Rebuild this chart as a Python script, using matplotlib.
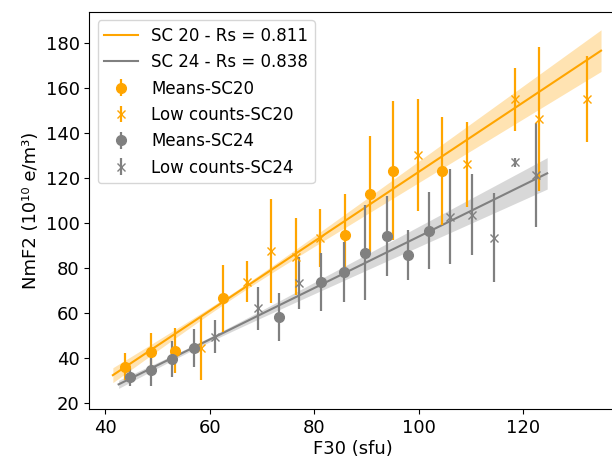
import numpy as np
import matplotlib
matplotlib.use('Agg')
import matplotlib.pyplot as plt

# SC20 monthly means
f30_m20 = [43.9, 48.7, 53.3, 62.6, 85.9, 90.7, 95.1, 104.4]
nmf2_m20 = [36.0, 42.7, 43.2, 66.5, 94.7, 112.9, 123.3, 123.3]
err_m20 = [6, 8.5, 10, 15, 18, 26, 31, 24]

# SC20 low-count points
f30_l20 = [58.3, 67.2, 71.8, 76.5, 81.1, 99.9, 109.2, 118.4, 123.0, 132.3]
nmf2_l20 = [44.2, 73.9, 87.5, 85.0, 93.2, 130.3, 126.1, 155.1, 146.2, 155.1]
err_l20 = [14, 9, 23, 17, 13, 25, 19, 14, 32, 19]

# SC24 monthly means
f30_m24 = [44.8, 48.7, 52.9, 57.0, 73.3, 81.4, 85.7, 89.8, 94.0, 97.9, 102.0]
nmf2_m24 = [31.3, 34.6, 39.5, 44.5, 58.3, 73.6, 78.3, 86.8, 94.2, 85.8, 96.6]
err_m24 = [4, 7, 8, 8.5, 10.7, 13, 13.3, 21, 18, 11, 17]

# SC24 low-count points
f30_l24 = [61.0, 69.3, 77.2, 106.0, 110.2, 114.4, 118.4, 122.4]
nmf2_l24 = [49.4, 62.0, 73.4, 102.8, 103.6, 93.5, 126.9, 121.4]
err_l24 = [7.4, 9.6, 11.5, 21, 18, 20, 2, 23]

# linear fits: slope, intercept, x range
fit20 = (1.546, -31.9)
fit24 = (1.145, -20.6)
range20 = (41.5, 134.9)
range24 = (42.6, 124.6)
# confidence band: min half-width, growth rate, centre
band20 = (1.2, 0.1315, 65.0)
band24 = (1.0, 0.1028, 57.2)

rs20 = 0.811
rs24 = 0.838

fig = plt.figure(figsize=(6.12, 4.65), dpi=100)
ax = fig.add_axes([0.146, 0.1204, 0.86, 0.854])


def fit_band(fit, xr, band, color, label):
    xx = np.linspace(xr[0], xr[1], 100)
    yy = fit[0] * xx + fit[1]
    h = np.sqrt(band[0]**2 + (band[1] * (xx - band[2]))**2)
    ax.fill_between(xx, yy - h, yy + h, color=color, alpha=0.3, lw=0)
    ax.plot(xx, yy, color=color, lw=1.5, label=label)


fit_band(fit20, range20, band20, 'orange', f'SC 20 - Rs = {rs20}')
fit_band(fit24, range24, band24, 'grey', f'SC 24 - Rs = {rs24}')

ax.errorbar(f30_m20, nmf2_m20, yerr=err_m20, fmt='o', color='orange',
            ms=7, elinewidth=1.6, label='Means-SC20')
ax.errorbar(f30_l20, nmf2_l20, yerr=err_l20, fmt='x', color='orange',
            ms=6, elinewidth=1.6, label='Low counts-SC20')
ax.errorbar(f30_m24, nmf2_m24, yerr=err_m24, fmt='o', color='grey',
            ms=7, elinewidth=1.6, label='Means-SC24')
ax.errorbar(f30_l24, nmf2_l24, yerr=err_l24, fmt='x', color='grey',
            ms=6, elinewidth=1.6, label='Low counts-SC24')

ax.set_xlim(37.0, 137.7)
ax.set_ylim(17.2, 193.9)
ax.set_xticks([40, 60, 80, 100, 120])
ax.set_yticks(np.arange(20, 181, 20))
ax.tick_params(labelsize=13)
ax.set_xlabel('F30 (sfu)', fontsize=13, labelpad=2)
ax.set_ylabel('NmF2 (10¹⁰ e/m³)', fontsize=13)
ax.legend(loc='upper left', fontsize=12)

fig.savefig('out.png', dpi=100)
